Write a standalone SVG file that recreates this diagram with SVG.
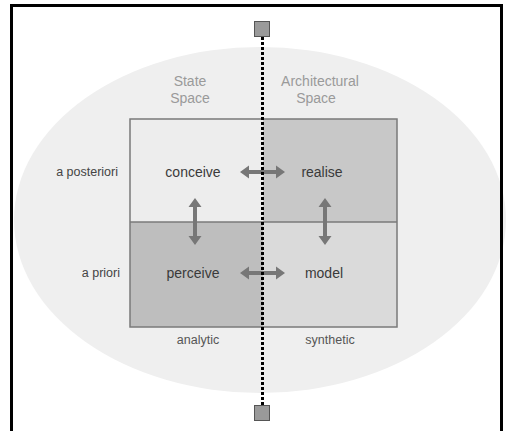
<svg xmlns="http://www.w3.org/2000/svg" width="508" height="431" viewBox="0 0 508 431">
<style>
text{font-family:"Liberation Sans",Arial,sans-serif}
.q{font-size:14px;fill:#3a3a3a;text-anchor:middle}
.s{font-size:12.5px;fill:#444}
.h{font-size:14px;fill:#9a9a9a;text-anchor:middle}
.b{font-size:12.5px;fill:#555;text-anchor:middle}
.arr{fill:#777}
</style>
<defs>
<path id="harr" d="M0,0 l9,-6.5 v4.5 h27 v-4.5 l9,6.5 l-9,6.5 v-4.5 h-27 v4.5 z"/>
<path id="varr" d="M0,0 l6.5,9 h-4.5 v29 h4.5 l-6.5,9 l-6.5,-9 h4.5 v-29 h-4.5 z"/>
</defs>
<rect x="0" y="0" width="508" height="431" fill="#fff"/>
<g id="background">
<ellipse cx="260" cy="220" rx="246" ry="173" fill="#efefef"/>
</g>
<g id="quadrants" stroke="none">
<rect id="q-conceive" x="130" y="119" width="133" height="103" fill="#ededed"/>
<rect id="q-realise" x="263" y="119" width="134" height="103" fill="#c8c8c8"/>
<rect id="q-perceive" x="130" y="222" width="133" height="105" fill="#bebebe"/>
<rect id="q-model" x="263" y="222" width="134" height="105" fill="#dadada"/>
<rect x="130" y="119" width="267" height="208" fill="none" stroke="#7a7a7a" stroke-width="1.5"/>
<line x1="130" y1="222" x2="397" y2="222" stroke="#7a7a7a" stroke-width="1.5"/>
</g>
<g id="labels">
<text class="h" x="190" y="86">State</text>
<text class="h" x="190" y="103">Space</text>
<text class="h" x="320" y="86">Architectural</text>
<text class="h" x="316" y="103">Space</text>
<text class="s" x="118" y="176" text-anchor="end">a posteriori</text>
<text class="s" x="120" y="277" text-anchor="end">a priori</text>
<text class="b" x="198" y="344">analytic</text>
<text class="b" x="330" y="344">synthetic</text>
</g>
<g id="conceive"><text class="q" x="193" y="177">conceive</text></g>
<g id="realise"><text class="q" x="322" y="177">realise</text></g>
<g id="perceive"><text class="q" x="193" y="278">perceive</text></g>
<g id="model"><text class="q" x="324" y="278">model</text></g>
<g id="connectors" class="arr">
<use href="#harr" x="240" y="172"/>
<use href="#harr" x="240" y="273"/>
<use href="#varr" x="195" y="198"/>
<use href="#varr" x="325" y="198"/>
</g>
<g id="axis">
<line x1="262.5" y1="37" x2="262.5" y2="405" stroke="#000" stroke-width="3" stroke-dasharray="3 2"/>
<rect x="254.5" y="21.5" width="15" height="15" fill="#9a9a9a" stroke="#555" stroke-width="1"/>
<rect x="254.5" y="405.5" width="15" height="15" fill="#9a9a9a" stroke="#555" stroke-width="1"/>
</g>
<rect x="11.5" y="5.5" width="490" height="440" fill="none" stroke="#000" stroke-width="3"/>
</svg>
